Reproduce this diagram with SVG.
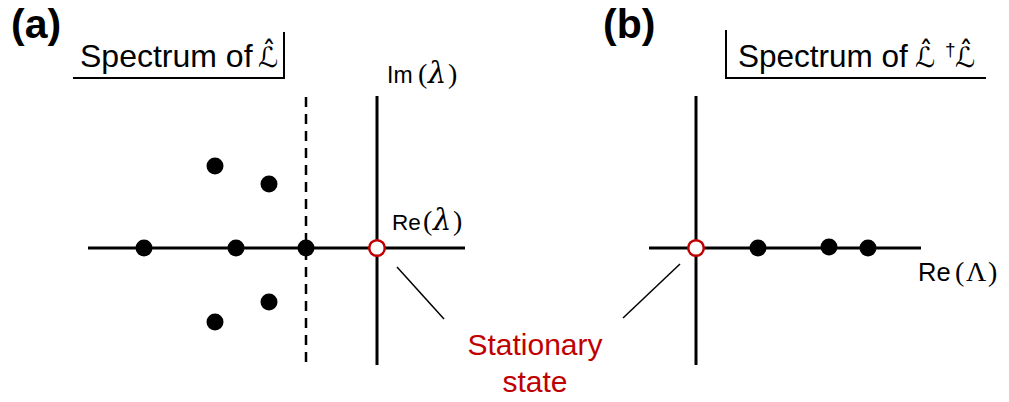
<svg xmlns="http://www.w3.org/2000/svg" width="1009" height="402" viewBox="0 0 1009 402">
<style>
.ax{stroke:#000;stroke-width:3;fill:none}
.dash{stroke:#000;stroke-width:2.5;stroke-dasharray:10 7;fill:none}
.lead{stroke:#000;stroke-width:1.5;fill:none}
.frame{stroke:#000;stroke-width:2;fill:none}
.dot{fill:#000}
.ss{fill:#fff;stroke:#C00000;stroke-width:2.5}
.t{font-family:"Liberation Sans",Arial,sans-serif;fill:#000}
.m{font-family:"Liberation Serif","DejaVu Serif",serif;font-size:28px}
.g{font-family:"DejaVu Serif","Liberation Serif",serif;font-size:29px;font-style:italic}
.cal{font-family:"DejaVu Sans",sans-serif;font-size:28px}
.lbl{font-family:"Liberation Sans",Arial,sans-serif;font-weight:bold;font-size:41px;fill:#000}
.red{font-family:"Liberation Sans",Arial,sans-serif;font-size:30px;fill:#C00000}
</style>
<rect width="1009" height="402" fill="#fff"/>
<text class="lbl" x="11" y="38">(a)</text>
<text class="lbl" x="603" y="38">(b)</text>
<g id="titleA">
<polyline class="frame" points="73,78 284,78 284,32"/>
<text class="t" x="80" y="67" font-size="32">Spectrum of<tspan class="cal" x="258">ℒ̂</tspan></text>
</g>
<g id="titleB">
<polyline class="frame" points="726,30 726,78 986,78"/>
<text class="t" x="738" y="67" font-size="31.5">Spectrum of<tspan class="cal" x="915">ℒ̂</tspan><tspan font-size="19" x="945" y="56">†</tspan><tspan class="cal" x="955" y="67">ℒ̂</tspan></text>
</g>
<g id="connectors">
<line class="ax" x1="88" y1="248" x2="465" y2="248"/>
<line class="ax" x1="377" y1="96" x2="377" y2="365"/>
<line class="dash" x1="306" y1="97" x2="306" y2="366"/>
<line class="ax" x1="649" y1="248" x2="921" y2="248"/>
<line class="ax" x1="696" y1="96" x2="696" y2="365"/>
<line class="lead" x1="397" y1="267" x2="444" y2="319"/>
<line class="lead" x1="680" y1="264" x2="623" y2="318"/>
</g>
<g id="axisLabels">
<text class="t" x="387" y="83" font-size="23">Im<tspan class="m" x="418">(</tspan><tspan class="g" x="428">λ</tspan><tspan class="m" x="448">)</tspan></text>
<text class="t" x="392" y="230" font-size="22.5">Re<tspan class="m" x="423">(</tspan><tspan class="g" x="433">λ</tspan><tspan class="m" x="453">)</tspan></text>
<text class="t" x="918" y="281" font-size="25.5">Re<tspan class="m" font-size="29" x="955">(</tspan><tspan class="m" font-size="29" x="966">Λ</tspan><tspan class="m" font-size="29" x="988">)</tspan></text>
</g>
<g id="eigenA">
<circle class="dot" cx="215" cy="166" r="8.5"/>
<circle class="dot" cx="269" cy="184" r="8.5"/>
<circle class="dot" cx="144" cy="248" r="8.5"/>
<circle class="dot" cx="236" cy="248" r="8.5"/>
<circle class="dot" cx="306" cy="248" r="8.5"/>
<circle class="dot" cx="269" cy="302" r="8.5"/>
<circle class="dot" cx="215" cy="322" r="8.5"/>
<circle class="ss" cx="377" cy="248" r="7.8"/>
</g>
<g id="eigenB">
<circle class="dot" cx="758" cy="248" r="8.5"/>
<circle class="dot" cx="829" cy="247" r="8.5"/>
<circle class="dot" cx="868" cy="248" r="8.5"/>
<circle class="ss" cx="696" cy="248" r="7.8"/>
</g>
<g id="stationary">
<text class="red" x="535" y="355" text-anchor="middle">Stationary</text>
<text class="red" x="535" y="392" text-anchor="middle">state</text>
</g>
</svg>
